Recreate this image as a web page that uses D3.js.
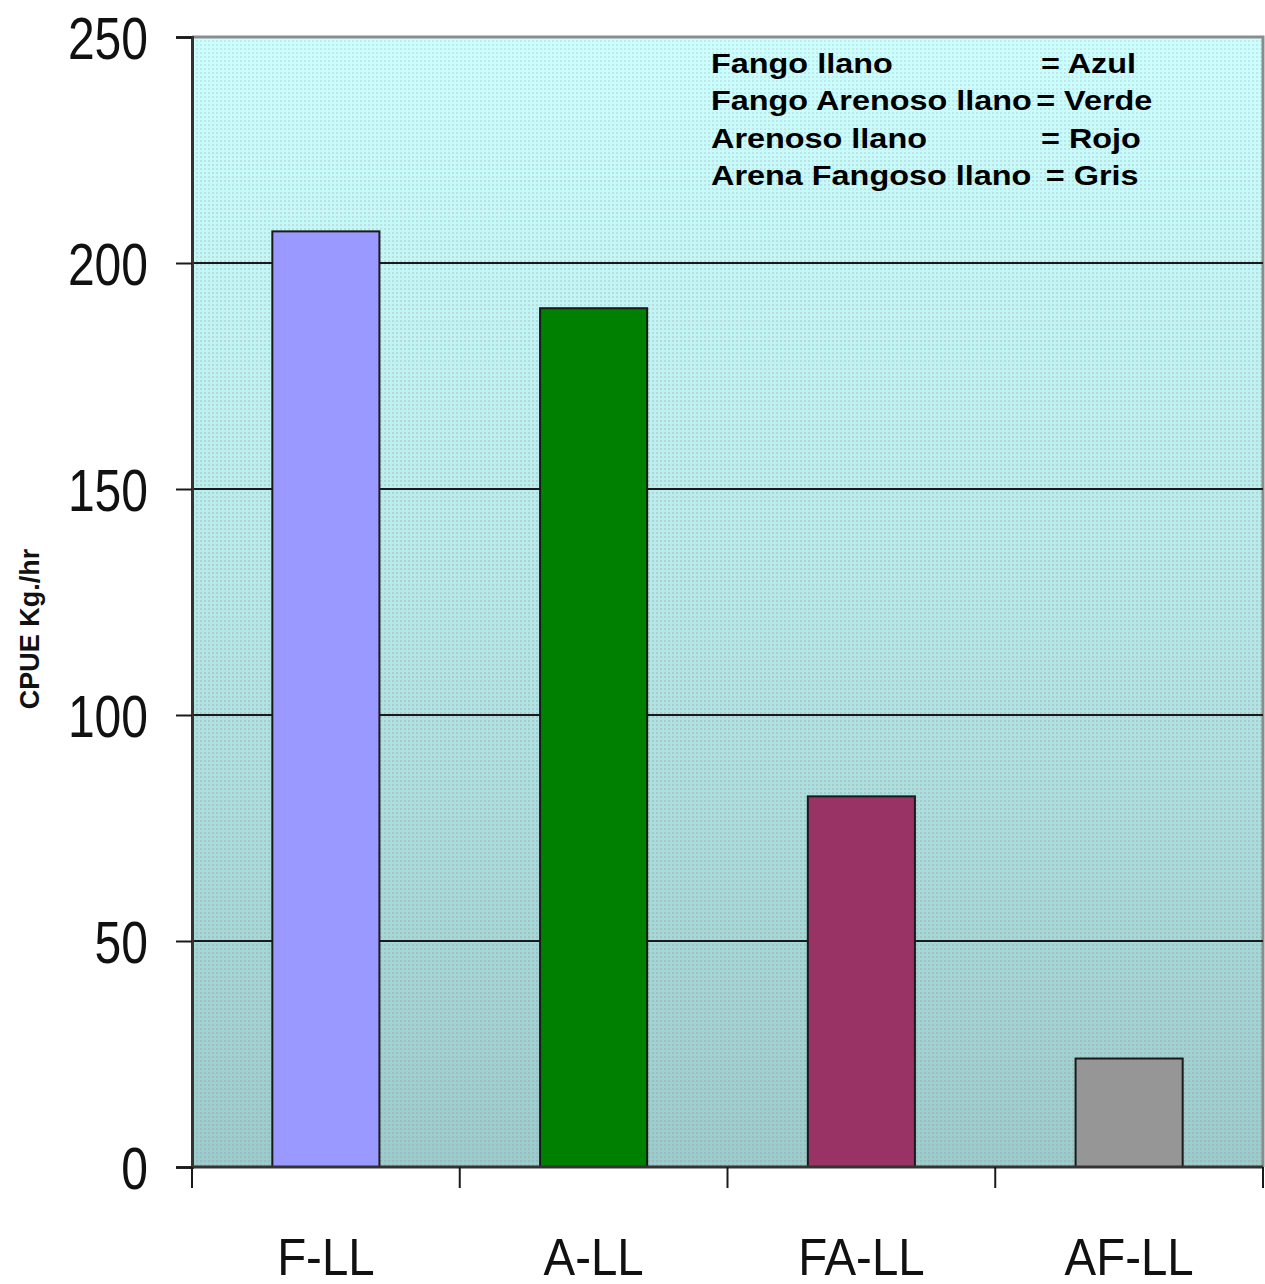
<!DOCTYPE html>
<html>
<head>
<meta charset="utf-8">
<script src="https://cdn.jsdelivr.net/npm/d3@7"></script>
<style>
  html, body { margin: 0; padding: 0; background: #ffffff; }
  svg { display: block; }
</style>
</head>
<body>
<svg id="chart" width="1265" height="1284"></svg>
<script>
// CPUE (Kg./hr) by bottom type
const categories = ["F-LL", "A-LL", "FA-LL", "AF-LL"];
const cpueValues = [207, 190, 82, 24];
const barColors = ["#9999ff", "#008000", "#993366", "#969696"];
const yTicks = [0, 50, 100, 150, 200, 250];
const legendNames = ["Fango llano", "Fango Arenoso llano", "Arenoso llano", "Arena Fangoso llano"];
const legendColours = ["= Azul", "= Verde", "= Rojo", "= Gris"];
const yTitle = "CPUE Kg./hr";

const svg = d3.select("#chart");
const plot = { left: 192, top: 37, right: 1263, bottom: 1167 };

const x = d3.scaleBand()
  .domain(categories)
  .range([plot.left, plot.right])
  .paddingInner(0.6)
  .paddingOuter(0.3);

const y = d3.scaleLinear()
  .domain([0, 250])
  .range([plot.bottom, plot.top]);

// ---- background: cyan-to-teal gradient with a dotted texture ----
const defs = svg.append("defs");
const grad = defs.append("linearGradient")
  .attr("id", "bgGrad").attr("x1", 0).attr("y1", 0).attr("x2", 0).attr("y2", 1);
grad.append("stop").attr("offset", "0%").attr("stop-color", "#ccffff");
grad.append("stop").attr("offset", "45%").attr("stop-color", "#b8ecec");
grad.append("stop").attr("offset", "100%").attr("stop-color", "#99cdcd");

const dots = defs.append("pattern")
  .attr("id", "dots").attr("patternUnits", "userSpaceOnUse")
  .attr("width", 4).attr("height", 4);
dots.append("rect").attr("width", 2).attr("height", 2).attr("fill", "#a8a8a8");

const fadeGrad = defs.append("linearGradient")
  .attr("id", "fadeGrad").attr("x1", 0).attr("y1", 0).attr("x2", 0).attr("y2", 1);
fadeGrad.append("stop").attr("offset", "0%").attr("stop-color", "#fff").attr("stop-opacity", 0.25);
fadeGrad.append("stop").attr("offset", "100%").attr("stop-color", "#fff").attr("stop-opacity", 0.55);
defs.append("mask").attr("id", "fadeMask")
  .append("rect")
  .attr("x", plot.left).attr("y", plot.top)
  .attr("width", plot.right - plot.left).attr("height", plot.bottom - plot.top)
  .attr("fill", "url(#fadeGrad)");

svg.append("rect")
  .attr("x", plot.left).attr("y", plot.top)
  .attr("width", plot.right - plot.left).attr("height", plot.bottom - plot.top)
  .attr("fill", "url(#bgGrad)");
svg.append("rect")
  .attr("x", plot.left).attr("y", plot.top)
  .attr("width", plot.right - plot.left).attr("height", plot.bottom - plot.top)
  .attr("fill", "url(#dots)")
  .attr("mask", "url(#fadeMask)");

// top and right frame
svg.append("path")
  .attr("d", `M${plot.left},${plot.top}H${plot.right}V${plot.bottom}`)
  .attr("fill", "none").attr("stroke", "#8c8c8c").attr("stroke-width", 3);

// ---- horizontal gridlines ----
svg.append("g")
  .selectAll("line")
  .data(yTicks.filter(d => d > 0 && d < 250))
  .join("line")
  .attr("x1", plot.left).attr("x2", plot.right)
  .attr("y1", d => y(d)).attr("y2", d => y(d))
  .attr("stroke", "#1a1a1a").attr("stroke-width", 2);

// ---- bars ----
svg.append("g")
  .selectAll("rect")
  .data(categories.map((c, i) => ({ c, v: cpueValues[i], col: barColors[i] })))
  .join("rect")
  .attr("x", d => x(d.c))
  .attr("y", d => y(d.v))
  .attr("width", x.bandwidth())
  .attr("height", d => y(0) - y(d.v))
  .attr("fill", d => d.col)
  .attr("stroke", "#1a1a1a")
  .attr("stroke-width", 2);

// ---- y axis ----
const yAxis = svg.append("g")
  .attr("transform", `translate(${plot.left},0)`)
  .call(d3.axisLeft(y).tickValues(yTicks).tickSize(16).tickPadding(0).tickFormat(d3.format("d")));
yAxis.select(".domain").attr("stroke", "#333").attr("stroke-width", 3);
yAxis.selectAll(".tick line").attr("stroke", "#1a1a1a").attr("stroke-width", 2);
yAxis.selectAll(".tick text")
  .attr("x", null).attr("dy", null)
  .attr("transform", "translate(-44,21) scale(0.8,1)")
  .attr("text-anchor", "end")
  .attr("fill", "#111")
  .style("font-family", "'Liberation Sans', Arial, sans-serif")
  .style("font-size", "60px");

// ---- x axis ----
const xAxis = svg.append("g")
  .attr("transform", `translate(0,${plot.bottom})`);
xAxis.append("line")
  .attr("x1", plot.left).attr("x2", plot.right)
  .attr("y1", 0).attr("y2", 0)
  .attr("stroke", "#333").attr("stroke-width", 3);
const boundaries = d3.range(categories.length + 1).map(i => plot.left + i * (plot.right - plot.left) / categories.length);
xAxis.selectAll("line.tk")
  .data(boundaries)
  .join("line").attr("class", "tk")
  .attr("x1", d => d).attr("x2", d => d)
  .attr("y1", 0).attr("y2", 21)
  .attr("stroke", "#1a1a1a").attr("stroke-width", 2);
xAxis.selectAll("text")
  .data(categories)
  .join("text")
  .attr("transform", d => `translate(${x(d) + x.bandwidth() / 2},108) scale(0.93,1)`)
  .attr("text-anchor", "middle")
  .attr("fill", "#111")
  .style("font-family", "'Liberation Sans', Arial, sans-serif")
  .style("font-size", "51px")
  .text(d => d);

// ---- y axis title ----
svg.append("text")
  .attr("transform", "translate(39,629) rotate(-90)")
  .attr("text-anchor", "middle")
  .attr("fill", "#111")
  .style("font-family", "'Liberation Sans', Arial, sans-serif")
  .style("font-weight", "bold")
  .style("font-size", "27px")
  .text(yTitle);

// ---- legend text (wide bold lettering) ----
const legend = svg.append("g")
  .attr("transform", "translate(711,0) scale(1.2,1)")
  .style("font-family", "'Liberation Sans', Arial, sans-serif")
  .style("font-weight", "bold")
  .style("font-size", "27px")
  .attr("fill", "#000");
legend.selectAll("text.name")
  .data(legendNames)
  .join("text").attr("class", "name")
  .attr("x", 0).attr("y", (d, i) => 73 + i * 37.5)
  .text(d => d);
legend.selectAll("text.col")
  .data(legendColours)
  .join("text").attr("class", "col")
  .attr("x", (d, i) => i === 1 ? 271 : (i === 3 ? 279 : 275))
  .attr("y", (d, i) => 73 + i * 37.5)
  .text(d => d);
</script>
</body>
</html>
